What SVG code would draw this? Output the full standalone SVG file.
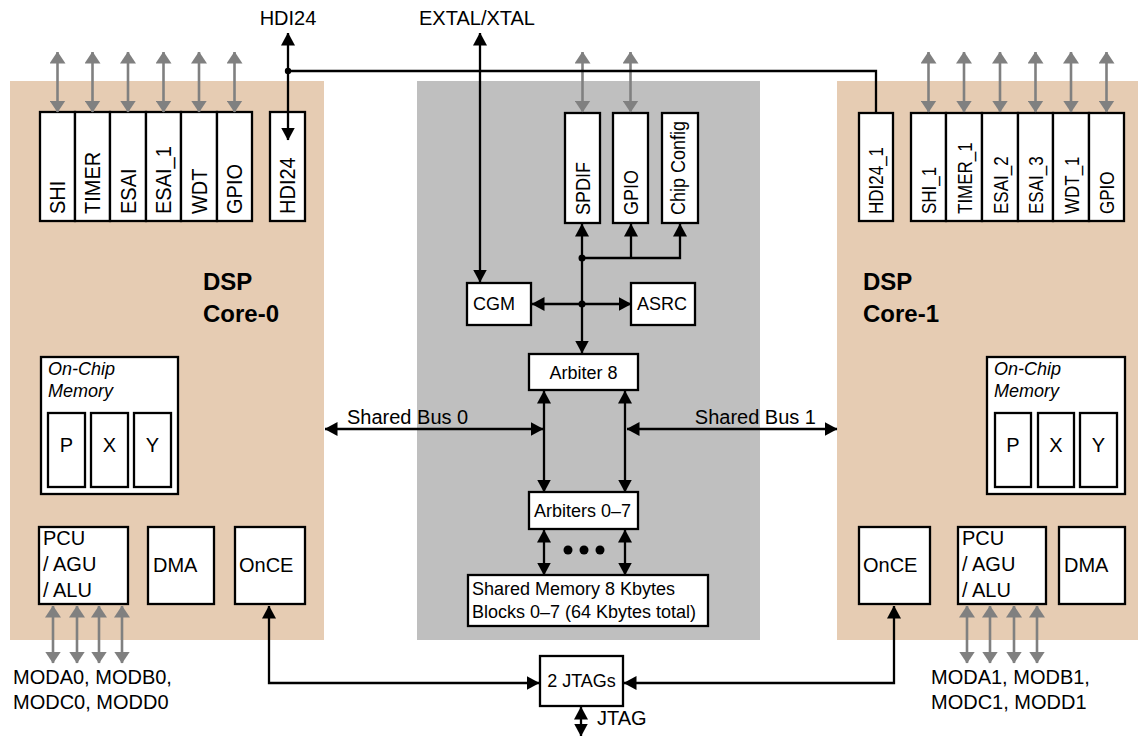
<svg xmlns="http://www.w3.org/2000/svg" width="1138" height="736" viewBox="0 0 1138 736">
<style>
text{font-family:"Liberation Sans",Arial,sans-serif;fill:#000}
.box{fill:#fff;stroke:#000;stroke-width:2.3}
.tan{fill:#E6CCB3}
.gpanel{fill:#BFBFBF}
.w{stroke:#000;stroke-width:2.3;fill:none}
.g{stroke:#808080;stroke-width:2.6;fill:none}
.t20{font-size:20px}
.t18{font-size:18px}
.rotL{font-size:20px}
.rotC{font-size:18px}
.rotR{font-size:17px}
.it{font-size:18px;font-style:italic}
.bold{font-size:24px;font-weight:bold}
</style>
<defs>
<marker id="ah" viewBox="0 0 13 14" refX="12.5" refY="7" markerWidth="13" markerHeight="14" orient="auto-start-reverse" markerUnits="userSpaceOnUse"><path d="M0,0 L13,7 L0,14 z" fill="#000"/></marker>
<marker id="ag" viewBox="0 0 12 16" refX="11.5" refY="8" markerWidth="12" markerHeight="16" orient="auto-start-reverse" markerUnits="userSpaceOnUse"><path d="M0,0 L12,8 L0,16 z" fill="#808080"/></marker>
</defs>

<!-- panels -->
<rect id="core0-panel" class="tan" x="10" y="81" width="314" height="559"/>
<rect id="core1-panel" class="tan" x="837" y="81" width="301" height="559"/>
<rect id="shared-panel" class="gpanel" x="417" y="81" width="343" height="559"/>

<!-- Core 0 -->
<g id="core0-label"><text class="bold" x="203" y="290">DSP</text><text class="bold" x="203" y="322">Core-0</text></g>
<g id="shi"><rect class="box" x="40" y="112" width="35" height="109"/><text class="rotL" transform="translate(65,214) scale(1.1,1) rotate(-90)">SHI</text></g>
<g id="timer"><rect class="box" x="75" y="112" width="35" height="109"/><text class="rotL" transform="translate(100,214) scale(1.1,1) rotate(-90)">TIMER</text></g>
<g id="esai"><rect class="box" x="110" y="112" width="36" height="109"/><text class="rotL" transform="translate(135.5,214) scale(1.1,1) rotate(-90)">ESAI</text></g>
<g id="esai1"><rect class="box" x="146" y="112" width="35" height="109"/><text class="rotL" transform="translate(171,214) scale(1.1,1) rotate(-90)">ESAI_1</text></g>
<g id="wdt"><rect class="box" x="181" y="112" width="36" height="109"/><text class="rotL" transform="translate(206.5,214) scale(1.1,1) rotate(-90)">WDT</text></g>
<g id="gpio0"><rect class="box" x="217" y="112" width="35" height="109"/><text class="rotL" transform="translate(242,214) scale(1.1,1) rotate(-90)">GPIO</text></g>
<g id="hdi24"><rect class="box" x="270" y="112" width="35" height="109"/><text class="rotL" transform="translate(295,214) scale(1.1,1) rotate(-90)">HDI24</text></g>
<g id="mem0"><rect class="box" x="41" y="357" width="137" height="137"/><text class="it" x="48" y="375">On-Chip</text><text class="it" x="48" y="397">Memory</text>
  <rect class="box" x="48" y="413" width="37" height="74"/><text class="t20" x="66.5" y="452" text-anchor="middle">P</text>
  <rect class="box" x="91" y="413" width="37" height="74"/><text class="t20" x="109.5" y="452" text-anchor="middle">X</text>
  <rect class="box" x="134" y="413" width="37" height="74"/><text class="t20" x="152.5" y="452" text-anchor="middle">Y</text></g>
<g id="pcu0"><rect class="box" x="39" y="527" width="89" height="77"/><text class="t20" x="43" y="545">PCU</text><text class="t20" x="43" y="571">/ AGU</text><text class="t20" x="43" y="597">/ ALU</text></g>
<g id="dma0"><rect class="box" x="148" y="527" width="66" height="77"/><text class="t20" x="153" y="572">DMA</text></g>
<g id="once0"><rect class="box" x="235" y="527" width="70" height="77"/><text class="t20" x="239" y="572">OnCE</text></g>

<!-- Shared -->
<g id="spdif"><rect class="box" x="565" y="113" width="35" height="110"/><text class="rotC" transform="translate(590,215) scale(1.15,1) rotate(-90)">SPDIF</text></g>
<g id="gpio-c"><rect class="box" x="613" y="113" width="35" height="110"/><text class="rotC" transform="translate(638,215) scale(1.15,1) rotate(-90)">GPIO</text></g>
<g id="chipcfg"><rect class="box" x="662" y="113" width="36" height="110"/><text class="rotC" transform="translate(685,215) scale(1.15,1) rotate(-90)">Chip Config</text></g>
<g id="cgm"><rect class="box" x="467" y="283" width="64" height="42"/><text class="t18" x="473" y="310">CGM</text></g>
<g id="asrc"><rect class="box" x="631" y="283" width="64" height="42"/><text class="t18" x="637" y="310">ASRC</text></g>
<g id="arb8"><rect class="box" x="529" y="354" width="109" height="36"/><text class="t18" x="583.5" y="379" text-anchor="middle">Arbiter 8</text></g>
<g id="arb07"><rect class="box" x="529" y="492" width="109" height="37"/><text class="t18" x="534" y="517">Arbiters 0–7</text></g>
<g id="shmem"><rect class="box" x="468" y="575" width="240" height="51"/><text class="t18" x="472" y="595">Shared Memory 8 Kbytes</text><text class="t18" x="472" y="618">Blocks 0–7 (64 Kbytes total)</text></g>
<g id="jtags"><rect class="box" x="540" y="656" width="83" height="50"/><text class="t18" x="581.5" y="687" text-anchor="middle">2 JTAGs</text></g>

<!-- Core 1 -->
<g id="core1-label"><text class="bold" x="863" y="290">DSP</text><text class="bold" x="863" y="322">Core-1</text></g>
<g id="hdi24-1"><rect class="box" x="859" y="113" width="34" height="108"/><text class="rotR" transform="translate(883,214) scale(1.18,1) rotate(-90)">HDI24_1</text></g>
<g id="shi1"><rect class="box" x="911" y="113" width="35" height="108"/><text class="rotR" transform="translate(936,214) scale(1.18,1) rotate(-90)">SHI_1</text></g>
<g id="timer1"><rect class="box" x="946" y="113" width="36" height="108"/><text class="rotR" transform="translate(971.5,214) scale(1.18,1) rotate(-90)">TIMER_1</text></g>
<g id="esai2"><rect class="box" x="982" y="113" width="36" height="108"/><text class="rotR" transform="translate(1007.5,214) scale(1.18,1) rotate(-90)">ESAI_2</text></g>
<g id="esai3"><rect class="box" x="1018" y="113" width="35" height="108"/><text class="rotR" transform="translate(1043,214) scale(1.18,1) rotate(-90)">ESAI_3</text></g>
<g id="wdt1"><rect class="box" x="1053" y="113" width="36" height="108"/><text class="rotR" transform="translate(1078.5,214) scale(1.18,1) rotate(-90)">WDT_1</text></g>
<g id="gpio1"><rect class="box" x="1089" y="113" width="35" height="108"/><text class="rotR" transform="translate(1114,214) scale(1.18,1) rotate(-90)">GPIO</text></g>
<g id="mem1"><rect class="box" x="987" y="357" width="138" height="137"/><text class="it" x="994" y="375">On-Chip</text><text class="it" x="994" y="397">Memory</text>
  <rect class="box" x="995" y="413" width="36" height="74"/><text class="t20" x="1013" y="452" text-anchor="middle">P</text>
  <rect class="box" x="1038" y="413" width="36" height="74"/><text class="t20" x="1056" y="452" text-anchor="middle">X</text>
  <rect class="box" x="1080" y="413" width="37" height="74"/><text class="t20" x="1098.5" y="452" text-anchor="middle">Y</text></g>
<g id="once1"><rect class="box" x="859" y="527" width="71" height="77"/><text class="t20" x="863" y="572">OnCE</text></g>
<g id="pcu1"><rect class="box" x="958" y="527" width="88" height="77"/><text class="t20" x="962" y="545">PCU</text><text class="t20" x="962" y="571">/ AGU</text><text class="t20" x="962" y="597">/ ALU</text></g>
<g id="dma1"><rect class="box" x="1059" y="527" width="66" height="77"/><text class="t20" x="1064" y="572">DMA</text></g>

<g id="connectors">
  <!-- gray I/O arrows top left -->
  <line class="g" x1="57.5" y1="52" x2="57.5" y2="112" marker-start="url(#ag)" marker-end="url(#ag)"/>
  <line class="g" x1="92.5" y1="52" x2="92.5" y2="112" marker-start="url(#ag)" marker-end="url(#ag)"/>
  <line class="g" x1="128" y1="52" x2="128" y2="112" marker-start="url(#ag)" marker-end="url(#ag)"/>
  <line class="g" x1="163.5" y1="52" x2="163.5" y2="112" marker-start="url(#ag)" marker-end="url(#ag)"/>
  <line class="g" x1="199" y1="52" x2="199" y2="112" marker-start="url(#ag)" marker-end="url(#ag)"/>
  <line class="g" x1="234.5" y1="52" x2="234.5" y2="112" marker-start="url(#ag)" marker-end="url(#ag)"/>
  <!-- gray top center -->
  <line class="g" x1="582.5" y1="52" x2="582.5" y2="112" marker-start="url(#ag)" marker-end="url(#ag)"/>
  <line class="g" x1="630.5" y1="52" x2="630.5" y2="112" marker-start="url(#ag)" marker-end="url(#ag)"/>
  <!-- gray top right -->
  <line class="g" x1="928.5" y1="52" x2="928.5" y2="112" marker-start="url(#ag)" marker-end="url(#ag)"/>
  <line class="g" x1="964" y1="52" x2="964" y2="112" marker-start="url(#ag)" marker-end="url(#ag)"/>
  <line class="g" x1="1000" y1="52" x2="1000" y2="112" marker-start="url(#ag)" marker-end="url(#ag)"/>
  <line class="g" x1="1035.5" y1="52" x2="1035.5" y2="112" marker-start="url(#ag)" marker-end="url(#ag)"/>
  <line class="g" x1="1071" y1="52" x2="1071" y2="112" marker-start="url(#ag)" marker-end="url(#ag)"/>
  <line class="g" x1="1106.5" y1="52" x2="1106.5" y2="112" marker-start="url(#ag)" marker-end="url(#ag)"/>
  <!-- gray bottom left -->
  <line class="g" x1="53" y1="606" x2="53" y2="663" marker-start="url(#ag)" marker-end="url(#ag)"/>
  <line class="g" x1="77" y1="606" x2="77" y2="663" marker-start="url(#ag)" marker-end="url(#ag)"/>
  <line class="g" x1="99" y1="606" x2="99" y2="663" marker-start="url(#ag)" marker-end="url(#ag)"/>
  <line class="g" x1="122" y1="606" x2="122" y2="663" marker-start="url(#ag)" marker-end="url(#ag)"/>
  <!-- gray bottom right -->
  <line class="g" x1="967" y1="606" x2="967" y2="663" marker-start="url(#ag)" marker-end="url(#ag)"/>
  <line class="g" x1="990" y1="606" x2="990" y2="663" marker-start="url(#ag)" marker-end="url(#ag)"/>
  <line class="g" x1="1014" y1="606" x2="1014" y2="663" marker-start="url(#ag)" marker-end="url(#ag)"/>
  <line class="g" x1="1037" y1="606" x2="1037" y2="663" marker-start="url(#ag)" marker-end="url(#ag)"/>

  <!-- HDI24 -->
  <line class="w" x1="288" y1="33" x2="288" y2="140" marker-start="url(#ah)" marker-end="url(#ah)"/>
  <polyline class="w" points="288,71 876,71 876,113"/>
  <circle cx="288" cy="71" r="3.2" fill="#000"/>
  <!-- EXTAL/XTAL -->
  <line class="w" x1="480" y1="33" x2="480" y2="282" marker-start="url(#ah)" marker-end="url(#ah)"/>
  <!-- SPDIF / GPIO / Chip Config bus -->
  <line class="w" x1="582" y1="224" x2="582" y2="353" marker-start="url(#ah)" marker-end="url(#ah)"/>
  <polyline class="w" points="582,258 680,258 680,224" marker-end="url(#ah)"/>
  <line class="w" x1="631" y1="258" x2="631" y2="224" marker-end="url(#ah)"/>
  <circle cx="582" cy="258" r="3.5" fill="#000"/>
  <line class="w" x1="532" y1="304" x2="631" y2="304" marker-start="url(#ah)" marker-end="url(#ah)"/>
  <circle cx="582" cy="304" r="3.5" fill="#000"/>
  <!-- Arbiter 8 to Arbiters 0-7 -->
  <line class="w" x1="544" y1="391" x2="544" y2="492" marker-start="url(#ah)" marker-end="url(#ah)"/>
  <line class="w" x1="625" y1="391" x2="625" y2="492" marker-start="url(#ah)" marker-end="url(#ah)"/>
  <!-- Shared buses -->
  <line class="w" x1="325" y1="429" x2="543" y2="429" marker-start="url(#ah)" marker-end="url(#ah)"/>
  <line class="w" x1="627" y1="429" x2="837" y2="429" marker-start="url(#ah)" marker-end="url(#ah)"/>
  <!-- Arbiters 0-7 to Shared Memory -->
  <line class="w" x1="544" y1="530" x2="544" y2="575" marker-start="url(#ah)" marker-end="url(#ah)"/>
  <line class="w" x1="625" y1="530" x2="625" y2="575" marker-start="url(#ah)" marker-end="url(#ah)"/>
  <circle cx="568" cy="550" r="4.5" fill="#000"/>
  <circle cx="584" cy="550" r="4.5" fill="#000"/>
  <circle cx="600" cy="550" r="4.5" fill="#000"/>
  <!-- OnCE to JTAGs -->
  <polyline class="w" points="269,606 269,683 539,683" marker-start="url(#ah)" marker-end="url(#ah)"/>
  <polyline class="w" points="894,606 894,683 624,683" marker-start="url(#ah)" marker-end="url(#ah)"/>
  <line class="w" x1="581" y1="707" x2="581" y2="736" marker-start="url(#ah)" marker-end="url(#ah)"/>
</g>

<!-- external labels -->
<g id="labels">
<text class="t20" x="288" y="25" text-anchor="middle">HDI24</text>
<text class="t20" x="477" y="25" text-anchor="middle">EXTAL/XTAL</text>
<text class="t20" x="347" y="424">Shared Bus 0</text>
<text class="t20" x="816" y="424" text-anchor="end">Shared Bus 1</text>
<text class="t20" x="13" y="684">MODA0, MODB0,</text>
<text class="t20" x="13" y="709">MODC0, MODD0</text>
<text class="t20" x="931" y="684">MODA1, MODB1,</text>
<text class="t20" x="931" y="709">MODC1, MODD1</text>
<text class="t20" x="597" y="725">JTAG</text>
</g>
</svg>
